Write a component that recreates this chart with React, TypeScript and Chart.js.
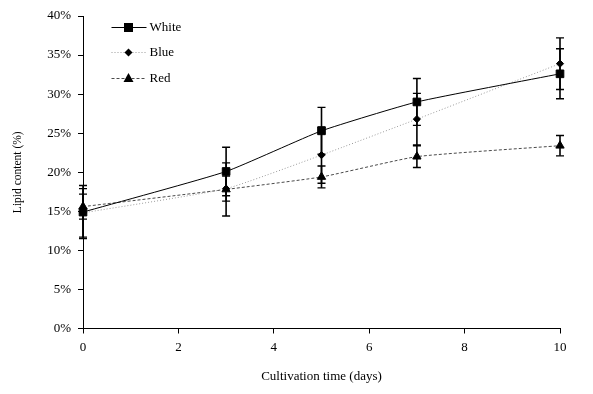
import React, { useEffect, useRef } from 'react';
import { Chart, registerables } from 'chart.js';

Chart.register(...registerables);

const days = [0, 3, 5, 7, 10];
const whiteValues = [14.9, 20.1, 25.3, 29.0, 32.6];
const whiteErrors = [3.4, 3.1, 3.0, 3.0, 3.2];
const blueValues = [14.8, 17.9, 22.2, 26.8, 33.9];
const blueErrors = [3.1, 1.6, 3.6, 3.3, 3.3];
const redValues = [15.6, 17.8, 19.4, 22.0, 23.4];
const redErrors = [1.6, 3.4, 1.4, 1.4, 1.3];
const seriesNames = ['White', 'Blue', 'Red'];
const xTickValues = [0, 2, 4, 6, 8, 10];
const yTickValues = [0, 5, 10, 15, 20, 25, 30, 35, 40];

const FONT = "'Times New Roman', 'Liberation Serif', serif";
const FSIZE = 13;

const errorSets = [whiteErrors, blueErrors, redErrors];

const errorBarPlugin = {
  id: 'errorBars',
  afterDatasetsDraw(chart: any) {
    const { ctx, scales } = chart;
    const xs = scales.x;
    const ys = scales.y;
    ctx.save();
    ctx.strokeStyle = '#000';
    chart.data.datasets.forEach((ds: any, i: number) => {
      const errs = errorSets[i];
      ds.data.forEach((pt: any, j: number) => {
        const x = xs.getPixelForValue(pt.x);
        const yTop = ys.getPixelForValue(pt.y + errs[j]);
        const yBot = ys.getPixelForValue(pt.y - errs[j]);
        ctx.lineWidth = 1.6;
        ctx.setLineDash([]);
        ctx.beginPath();
        ctx.moveTo(x, yTop);
        ctx.lineTo(x, yBot);
        ctx.stroke();
        ctx.lineWidth = 1.4;
        ctx.beginPath();
        ctx.moveTo(x - 4, yTop);
        ctx.lineTo(x + 4, yTop);
        ctx.moveTo(x - 4, yBot);
        ctx.lineTo(x + 4, yBot);
        ctx.stroke();
      });
    });
    ctx.restore();
  },
};

function drawMarker(ctx: CanvasRenderingContext2D, style: string, x: number, y: number) {
  ctx.beginPath();
  if (style === 'rect') {
    ctx.rect(x - 4.5, y - 4.5, 9, 9);
  } else if (style === 'rectRot') {
    ctx.moveTo(x, y - 4);
    ctx.lineTo(x + 4, y);
    ctx.lineTo(x, y + 4);
    ctx.lineTo(x - 4, y);
    ctx.closePath();
  } else {
    ctx.moveTo(x, y - 5.5);
    ctx.lineTo(x + 5, y + 3.5);
    ctx.lineTo(x - 5, y + 3.5);
    ctx.closePath();
  }
  ctx.fill();
}

const legendPlugin = {
  id: 'innerLegend',
  afterDraw(chart: any) {
    const { ctx, chartArea } = chart;
    ctx.save();
    const x0 = chartArea.left + 28.5;
    const rows = [27.5, 52.5, 78.5];
    chart.data.datasets.forEach((ds: any, i: number) => {
      const y = rows[i];
      ctx.strokeStyle = ds.borderColor;
      ctx.lineWidth = ds.borderWidth;
      ctx.setLineDash(ds.borderDash || []);
      ctx.beginPath();
      ctx.moveTo(x0, y);
      ctx.lineTo(x0 + 35, y);
      ctx.stroke();
      ctx.setLineDash([]);
      ctx.fillStyle = '#000';
      drawMarker(ctx, ds.pointStyle, x0 + 17, y);
      ctx.font = `${FSIZE}px ${FONT}`;
      ctx.textBaseline = 'middle';
      ctx.textAlign = 'left';
      ctx.fillText(seriesNames[i], x0 + 38, y);
    });
    ctx.restore();
  },
};

export default function App() {
  const canvasRef = useRef<HTMLCanvasElement | null>(null);

  useEffect(() => {
    if (!canvasRef.current) return;
    const toPts = (vals: number[]) => vals.map((v, i) => ({ x: days[i], y: v }));
    const chart = new Chart(canvasRef.current, {
      type: 'line',
      data: {
        datasets: [
          {
            label: seriesNames[0],
            data: toPts(whiteValues),
            borderColor: '#000000',
            borderWidth: 1,
            pointStyle: 'rect',
            pointRadius: 5.4,
            pointBackgroundColor: '#000',
            pointBorderColor: '#000',
            pointBorderWidth: 1,
            tension: 0.15,
            clip: false,
          },
          {
            label: seriesNames[1],
            data: toPts(blueValues),
            borderColor: '#9a9a9a',
            borderWidth: 1,
            borderDash: [1, 2],
            pointStyle: 'rectRot',
            pointRadius: 3.6,
            pointBackgroundColor: '#000',
            pointBorderColor: '#000',
            pointBorderWidth: 1,
            tension: 0.15,
            clip: false,
          },
          {
            label: seriesNames[2],
            data: toPts(redValues),
            borderColor: '#4a4a4a',
            borderWidth: 1,
            borderDash: [3, 2],
            pointStyle: 'triangle',
            pointRadius: 4.8,
            pointBackgroundColor: '#000',
            pointBorderColor: '#000',
            pointBorderWidth: 1,
            tension: 0.15,
            clip: false,
          },
        ],
      },
      options: {
        animation: false,
        responsive: false,
        maintainAspectRatio: false,
        layout: { padding: { left: 0, right: 33, top: 16, bottom: 0 } },
        plugins: {
          legend: { display: false },
          tooltip: { enabled: false },
        },
        scales: {
          x: {
            type: 'linear',
            min: 0,
            max: 10,
            afterBuildTicks: (scale: any) => {
              scale.ticks = xTickValues.map((v) => ({ value: v }));
            },
            afterFit: (scale: any) => {
              scale.height = 65.5;
            },
            border: { color: '#000', width: 1 },
            grid: { drawOnChartArea: false, drawTicks: true, tickLength: 5, color: '#000' },
            ticks: {
              color: '#000',
              padding: 6,
              font: { family: FONT, size: FSIZE },
              maxRotation: 0,
            },
            title: {
              display: true,
              text: 'Cultivation time (days)',
              color: '#000',
              font: { family: FONT, size: FSIZE },
              padding: { top: 0, bottom: 10 },
            },
          },
          y: {
            type: 'linear',
            min: 0,
            max: 40,
            afterBuildTicks: (scale: any) => {
              scale.ticks = yTickValues.map((v) => ({ value: v }));
            },
            afterFit: (scale: any) => {
              scale.width = 83;
            },
            border: { color: '#000', width: 1 },
            grid: { drawOnChartArea: false, drawTicks: true, tickLength: 5, color: '#000' },
            ticks: {
              color: '#000',
              padding: 7,
              font: { family: FONT, size: FSIZE },
              callback: (v: any) => `${v}%`,
            },
            title: {
              display: true,
              text: 'Lipid content (%)',
              color: '#000',
              font: { family: FONT, size: 11.5 },
              padding: { top: 11, bottom: 0 },
            },
          },
        },
      },
      plugins: [errorBarPlugin, legendPlugin],
    });
    return () => chart.destroy();
  }, []);

  return (
    <div style={{ position: 'absolute', left: 0, top: 0, width: 593, height: 394, background: '#fff' }}>
      <canvas ref={canvasRef} width={593} height={394} style={{ width: 593, height: 394, display: 'block' }} />
    </div>
  );
}
